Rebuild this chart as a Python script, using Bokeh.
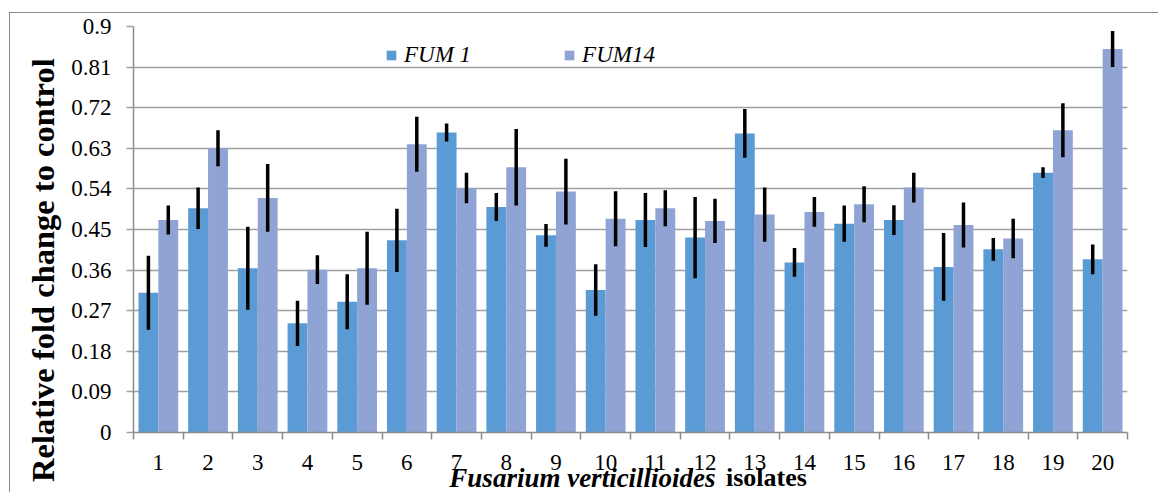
from bokeh.plotting import figure
from bokeh.models import (ColumnDataSource, Range1d, FixedTicker, NumeralTickFormatter,
                          Legend, LegendItem, LinearAxis)
from bokeh.transform import dodge
from bokeh.embed import file_html
from bokeh.resources import INLINE

# ---- data ----
isolates = list(range(1, 21))
fum1 = [0.310, 0.497, 0.364, 0.242, 0.290, 0.426, 0.665, 0.500, 0.437, 0.316,
        0.471, 0.432, 0.663, 0.377, 0.463, 0.471, 0.367, 0.406, 0.576, 0.384]
fum1_err = [0.082, 0.046, 0.092, 0.050, 0.061, 0.070, 0.020, 0.031, 0.025, 0.057,
            0.060, 0.090, 0.054, 0.032, 0.040, 0.033, 0.075, 0.025, 0.012, 0.033]
fum14 = [0.471, 0.630, 0.520, 0.361, 0.364, 0.639, 0.542, 0.588, 0.534, 0.474,
         0.497, 0.469, 0.483, 0.489, 0.506, 0.543, 0.460, 0.430, 0.670, 0.850]
fum14_err = [0.032, 0.040, 0.075, 0.032, 0.081, 0.061, 0.034, 0.085, 0.073, 0.061,
             0.040, 0.049, 0.060, 0.033, 0.040, 0.033, 0.050, 0.044, 0.060, 0.040]
y_ticks = [0, 0.09, 0.18, 0.27, 0.36, 0.45, 0.54, 0.63, 0.72, 0.81, 0.9]
series_names = ["FUM 1", "FUM14"]
colors = ["#5B9BD5", "#8FA3D4"]
y_title = "Relative fold change to control"
x_title_italic = "Fusarium verticillioides"
x_title_plain = "isolates"
# where the title texts are centred (in axis units)
y_title_at = 0.36
x_title_italic_at = 9.534
x_title_plain_at = 13.236

src = ColumnDataSource(dict(
    x=isolates,
    f1=fum1, f1_lo=[v - e for v, e in zip(fum1, fum1_err)], f1_hi=[v + e for v, e in zip(fum1, fum1_err)],
    f14=fum14, f14_lo=[v - e for v, e in zip(fum14, fum14_err)], f14_hi=[v + e for v, e in zip(fum14, fum14_err)],
))

SERIF = "Liberation Serif"
GRID = "#a0a0a0"
AXIS = "#8c8c8c"

p = figure(frame_width=994, frame_height=406,
           min_border_left=123, min_border_top=13, min_border_right=31, min_border_bottom=58,
           x_range=Range1d(0.5, 20.5), y_range=Range1d(0, 0.9),
           output_backend="svg", toolbar_location=None)
p.styles = {"margin-left": "9px", "margin-top": "12px",
            "border-left": "1px solid #8c8c8c", "border-top": "1px solid #8c8c8c"}
p.outline_line_color = None
p.background_fill_color = "white"
p.border_fill_color = "white"

bw = 0.4
r1 = p.vbar(x=dodge("x", -0.2, range=p.x_range), top="f1", width=bw, source=src,
            fill_color=colors[0], line_color=None)
r2 = p.vbar(x=dodge("x", 0.2, range=p.x_range), top="f14", width=bw, source=src,
            fill_color=colors[1], line_color=None)
p.segment(x0=dodge("x", -0.2, range=p.x_range), x1=dodge("x", -0.2, range=p.x_range),
          y0="f1_lo", y1="f1_hi", source=src, line_color="black", line_width=3.5)
p.segment(x0=dodge("x", 0.2, range=p.x_range), x1=dodge("x", 0.2, range=p.x_range),
          y0="f14_lo", y1="f14_hi", source=src, line_color="black", line_width=3.5)

# x axis: labels at centres, tick marks at group boundaries
xa = p.xaxis[0]
xa.ticker = FixedTicker(ticks=isolates, minor_ticks=[i - 0.5 for i in isolates] + [isolates[-1] + 0.5])
xa.major_tick_out = 0
xa.major_tick_in = 0
xa.minor_tick_out = 7
xa.minor_tick_in = 0
xa.minor_tick_line_color = AXIS
xa.minor_tick_line_width = 1.5
xa.axis_line_color = AXIS
xa.axis_line_width = 1.5
xa.major_label_text_font = SERIF
xa.major_label_text_font_size = "23px"
xa.major_label_text_color = "black"
xa.major_label_standoff = 15

ya = p.yaxis[0]
ya.ticker = FixedTicker(ticks=y_ticks)
ya.formatter = NumeralTickFormatter(format="0.[00]")
ya.major_tick_out = 7
ya.major_tick_in = 0
ya.major_tick_line_color = GRID
ya.major_tick_line_width = 1.5
ya.minor_tick_line_color = None
ya.axis_line_color = AXIS
ya.axis_line_width = 1.5
ya.major_label_text_font = SERIF
ya.major_label_text_font_size = "23px"
ya.major_label_text_color = "black"
ya.major_label_standoff = 15

p.xgrid.visible = False
p.ygrid.ticker = FixedTicker(ticks=y_ticks)
p.ygrid.grid_line_color = GRID
p.ygrid.grid_line_width = 1.5


def title_axis(tick, text, style, size, standoff, orientation="horizontal"):
    ax = LinearAxis(ticker=FixedTicker(ticks=[tick]),
                    major_label_overrides={tick: text},
                    major_label_orientation=orientation,
                    axis_line_color=None, major_tick_line_color=None,
                    minor_tick_line_color=None, major_tick_out=0, major_tick_in=0,
                    minor_tick_out=0, minor_tick_in=0,
                    major_label_text_font=SERIF, major_label_text_font_style=style,
                    major_label_text_font_size=size, major_label_text_color="black",
                    major_label_standoff=standoff)
    return ax


# y title (outside the tick labels), x title in two styles on one line
p.add_layout(title_axis(y_title_at, y_title, "bold", "32.5px", 7, "vertical"), "left")
p.add_layout(title_axis(x_title_italic_at, x_title_italic, "bold italic", "27px", -10), "below")
p.add_layout(title_axis(x_title_plain_at, x_title_plain, "bold", "26px", -33), "below")

legend = Legend(items=[LegendItem(label=series_names[0], renderers=[r1]),
                       LegendItem(label=series_names[1], renderers=[r2])],
                orientation="horizontal", location=(252, 364))
legend.label_text_font = SERIF
legend.label_text_font_style = "italic"
legend.label_text_font_size = "23px"
legend.label_text_color = "black"
legend.glyph_width = 12
legend.glyph_height = 12
legend.label_standoff = 7
legend.label_height = 22
legend.spacing = 92
legend.padding = 0
legend.margin = 0
legend.border_line_color = None
legend.background_fill_alpha = 0
p.add_layout(legend)

open("out.html", "w").write(file_html(p, INLINE))
